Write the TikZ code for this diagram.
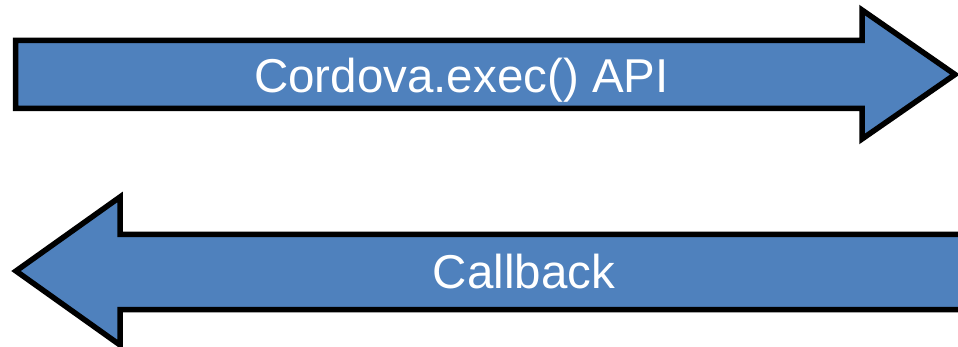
\documentclass[tikz,border=0pt]{standalone}
\usepackage{fontspec}
\setmainfont{Liberation Sans}
\definecolor{arrowblue}{RGB}{79,129,189}

\begin{document}
\begin{tikzpicture}[x=1pt, y=-1pt,
    blockarrow/.style={draw=black, fill=arrowblue, line width=5.5pt, line join=miter},
    arrowtext/.style={text=white, font=\fontsize{47.5}{52}\selectfont, inner sep=0pt, anchor=base}]
  \useasboundingbox (0,0) rectangle (958,347);
  \clip (0,0) rectangle (958,347);
  % call arrow, to the right
  \draw[blockarrow] (15.5,40.5) -- (862,40.5) -- (862,10) -- (955,74.5) -- (862,139)
      -- (862,108.5) -- (15.5,108.5) -- cycle;
  \node[arrowtext] (exec) at (461.5,93) {Cordova.exec() API};
  % callback arrow, to the left
  \draw[blockarrow] (975,234.5) -- (120,234.5) -- (120,197) -- (16,271) -- (120,345)
      -- (120,309.5) -- (975,309.5) -- cycle;
  \node[arrowtext] (callback) at (524,288) {Callback};
\end{tikzpicture}
\end{document}
